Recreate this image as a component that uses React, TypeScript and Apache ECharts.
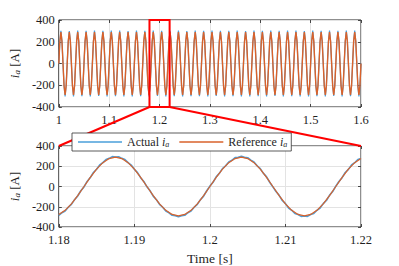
import React, { useEffect, useRef } from "react";
import * as echarts from "echarts";

// ---- data ----
const topStart = 1.0;
const topStep = 1 / 480; // s between samples in the overview plot
const topActual = [
  1, 206, 301, 205, -1, -206, -302, -205,
  -1, 205, 299, 206, 1, -205, -304, -206,
  1, 206, 303, 205, -1, -206, -300, -205,
  -1, 205, 300, 206, 1, -205, -302, -206,
  1, 206, 304, 205, -1, -206, -299, -205,
  -1, 205, 300, 206, 1, -205, -303, -206,
  1, 206, 302, 205, -1, -206, -301, -205,
  -1, 205, 303, 206, 1, -205, -304, -206,
  1, 206, 299, 205, -1, -206, -302, -205,
  -1, 205, 302, 206, 1, -205, -300, -206,
  1, 206, 300, 205, -1, -206, -303, -205,
  -1, 205, 304, 206, 1, -205, -299, -206,
  1, 206, 300, 205, -1, -206, -302, -205,
  -1, 205, 301, 206, 1, -205, -300, -206,
  1, 206, 303, 205, -1, -206, -304, -205,
  -1, 205, 299, 206, 1, -205, -301, -206,
  1, 206, 302, 205, -1, -206, -300, -205,
  -1, 205, 300, 206, 1, -205, -303, -206,
  1, 206, 304, 205, -1, -206, -299, -205,
  -1, 205, 300, 206, 1, -205, -302, -206,
  1, 206, 301, 205, -1, -206, -300, -205,
  -1, 205, 303, 206, 1, -205, -304, -206,
  1, 206, 299, 205, -1, -206, -302, -205,
  -1, 205, 302, 206, 1, -205, -300, -206,
  1, 206, 300, 205, -1, -206, -303, -205,
  -1, 205, 304, 206, 1, -205, -299, -206,
  1, 206, 301, 205, -1, -206, -302, -205,
  -1, 205, 302, 206, 1, -205, -301, -206,
  1, 206, 303, 205, -1, -206, -304, -205,
  -1, 205, 299, 206, 1, -205, -302, -206,
  1, 206, 302, 205, -1, -206, -300, -205,
  -1, 205, 300, 206, 1, -205, -303, -206,
  1, 206, 304, 205, -1, -206, -299, -205,
  -1, 205, 301, 206, 1, -205, -302, -206,
  1, 206, 302, 205, -1, -206, -301, -205,
  -1, 205, 303, 206, 1, -205, -304, -206,
  1,
];
const topReference = [
  0, 205, 290, 205, 0, -205, -290, -205,
  0, 205, 290, 205, 0, -205, -290, -205,
  0, 205, 290, 205, 0, -205, -290, -205,
  0, 205, 290, 205, 0, -205, -290, -205,
  0, 205, 290, 205, 0, -205, -290, -205,
  0, 205, 290, 205, 0, -205, -290, -205,
  0, 205, 290, 205, 0, -205, -290, -205,
  0, 205, 290, 205, 0, -205, -290, -205,
  0, 205, 290, 205, 0, -205, -290, -205,
  0, 205, 290, 205, 0, -205, -290, -205,
  0, 205, 290, 205, 0, -205, -290, -205,
  0, 205, 290, 205, 0, -205, -290, -205,
  0, 205, 290, 205, 0, -205, -290, -205,
  0, 205, 290, 205, 0, -205, -290, -205,
  0, 205, 290, 205, 0, -205, -290, -205,
  0, 205, 290, 205, 0, -205, -290, -205,
  0, 205, 290, 205, 0, -205, -290, -205,
  0, 205, 290, 205, 0, -205, -290, -205,
  0, 205, 290, 205, 0, -205, -290, -205,
  0, 205, 290, 205, 0, -205, -290, -205,
  0, 205, 290, 205, 0, -205, -290, -205,
  0, 205, 290, 205, 0, -205, -290, -205,
  0, 205, 290, 205, 0, -205, -290, -205,
  0, 205, 290, 205, 0, -205, -290, -205,
  0, 205, 290, 205, 0, -205, -290, -205,
  0, 205, 290, 205, 0, -205, -290, -205,
  0, 205, 290, 205, 0, -205, -290, -205,
  0, 205, 290, 205, 0, -205, -290, -205,
  0, 205, 290, 205, 0, -205, -290, -205,
  0, 205, 290, 205, 0, -205, -290, -205,
  0, 205, 290, 205, 0, -205, -290, -205,
  0, 205, 290, 205, 0, -205, -290, -205,
  0, 205, 290, 205, 0, -205, -290, -205,
  0, 205, 290, 205, 0, -205, -290, -205,
  0, 205, 290, 205, 0, -205, -290, -205,
  0, 205, 290, 205, 0, -205, -290, -205,
  0,
];

const zoomStart = 1.18;
const zoomEnd = 1.22;
const zoomActualStep = 1 / 2400;
const zoomActual = [
  -284, -259, -242, -205, -177, -130, -94, -42, -4, 50, 88, 138, 170, 213, 236, 267, 278, 295,
  292, 294, 278, 266, 236, 212, 170, 137, 87, 50, -3, -43, -95, -130, -176, -205, -243, -260, -284, -288,
  -298, -288, -284, -259, -243, -205, -177, -130, -95, -42, 4, 42, 95, 130, 177, 205, 243, 259, 285, 288,
  298, 288, 284, 260, 242, 205, 177, 130, 95, 42, -4, -50, -87, -138, -169, -213, -235, -267, -277, -295,
  -291, -295, -277, -267, -235, -213, -169, -138, -87, -50, 4, 50, 87, 138, 169, 213, 235, 267, 277,
];
const zoomReferenceStep = 1 / 1200;
const zoomReference = [
  -276, -235, -171, -90, 0, 90, 171, 235, 276, 290, 276, 235, 171, 90, 0, -90, -171, -235, -276, -290,
  -276, -235, -171, -90, 0, 90, 171, 235, 276, 290, 276, 235, 171, 90, 0, -90, -171, -235, -276, -290,
  -276, -235, -171, -90, 0, 90, 171, 235, 276,
];

const yMin = -400;
const yMax = 400;
const yInterval = 200;

const FONT = "Liberation Serif";
const TEXT = "#1f1f1f";
const BLUE = "#4A9FDA";
const ORANGE = "#D9622B";
const RED = "#FF0000";

const fmt = (v: number) => String(Math.round(v * 100) / 100);

const nameRich = {
  it: { fontStyle: "italic", fontFamily: FONT, fontSize: 13, color: TEXT },
  sub: { fontStyle: "italic", fontFamily: FONT, fontSize: 9, color: TEXT, verticalAlign: "bottom", padding: [4, 0, 0, 0] },
  n: { fontFamily: FONT, fontSize: 13, color: TEXT },
};

export default function App() {
  const ref = useRef<HTMLDivElement>(null);
  useEffect(() => {
    if (!ref.current) return;
    const chart = echarts.init(ref.current, undefined, { renderer: "svg" });

    const tick = { show: true, inside: true, length: 3, lineStyle: { color: TEXT, width: 0.8 } };
    const split = { show: true, lineStyle: { color: "#E3E3E3", width: 1 } };
    const noLine = { show: false, onZero: false };

    const xBase = (gi: number, min: number, max: number, interval: number) => ({
      type: "value",
      gridIndex: gi,
      min,
      max,
      interval,
      axisLine: noLine,
      axisTick: tick,
      splitLine: split,
      axisLabel: { color: TEXT, fontFamily: FONT, fontSize: 12.5, margin: 6, formatter: fmt },
    });
    const yBase = (gi: number) => ({
      type: "value",
      gridIndex: gi,
      min: yMin,
      max: yMax,
      interval: yInterval,
      axisLine: noLine,
      axisTick: tick,
      splitLine: split,
      axisLabel: { color: TEXT, fontFamily: FONT, fontSize: 12.5, margin: 4 },
      name: "{it|i}{sub|a}{n| [A]}",
      nameLocation: "middle",
      nameRotate: 90,
      nameGap: 30,
      nameTextStyle: { fontFamily: FONT, fontSize: 13, rich: nameRich },
    });
    const mirrorX = (gi: number, min: number, max: number, interval: number) => ({
      type: "value",
      gridIndex: gi,
      position: "top",
      min,
      max,
      interval,
      axisLine: noLine,
      axisTick: tick,
      splitLine: { show: false },
      axisLabel: { show: false },
    });
    const mirrorY = (gi: number) => ({
      type: "value",
      gridIndex: gi,
      position: "right",
      min: yMin,
      max: yMax,
      interval: yInterval,
      axisLine: noLine,
      axisTick: tick,
      splitLine: { show: false },
      axisLabel: { show: false },
    });

    chart.setOption({
      animation: false,
      backgroundColor: "#ffffff",
      grid: [
        { left: 51, top: 20, width: 310, height: 87, show: true, borderColor: TEXT, borderWidth: 1, backgroundColor: "transparent" },
        { left: 51, top: 146, width: 310, height: 86, show: true, borderColor: TEXT, borderWidth: 1, backgroundColor: "transparent" },
      ],
      xAxis: [
        xBase(0, 1, 1.6, 0.1),
        {
          ...xBase(1, zoomStart, zoomEnd, 0.01),
          name: "Time [s]",
          nameLocation: "middle",
          nameGap: 24,
          nameTextStyle: { color: TEXT, fontFamily: FONT, fontSize: 13.5 },
        },
        mirrorX(0, 1, 1.6, 0.1),
        mirrorX(1, zoomStart, zoomEnd, 0.01),
      ],
      yAxis: [yBase(0), yBase(1), mirrorY(0), mirrorY(1)],
      legend: {
        data: ["Actual", "Reference"],
        left: 72,
        top: 133,
        orient: "horizontal",
        backgroundColor: "#ffffff",
        borderColor: "#333333",
        borderWidth: 0.8,
        borderRadius: 0,
        padding: [3, 4, 3, 6],
        itemGap: 10,
        itemWidth: 44,
        itemHeight: 1.6,
        icon: "rect",
        z: 10,
        formatter: (name: string) => `${name} {it|i}{sub|a}`,
        textStyle: {
          color: TEXT,
          fontFamily: FONT,
          fontSize: 12,
          rich: {
            it: { fontStyle: "italic", fontFamily: FONT, fontSize: 12, color: TEXT },
            sub: { fontStyle: "italic", fontFamily: FONT, fontSize: 8, color: TEXT, verticalAlign: "bottom", padding: [4, 0, 0, 0] },
          },
        },
      },
      series: [
        {
          name: "Actual",
          type: "line",
          xAxisIndex: 0,
          yAxisIndex: 0,
          symbol: "none",
          data: topActual.map((v, i) => [topStart + i * topStep, v]),
          lineStyle: { color: BLUE, width: 1.2 },
          itemStyle: { color: BLUE },
          z: 2,
        },
        {
          name: "Reference",
          type: "line",
          xAxisIndex: 0,
          yAxisIndex: 0,
          symbol: "none",
          data: topReference.map((v, i) => [topStart + i * topStep, v]),
          lineStyle: { color: ORANGE, width: 1.4 },
          itemStyle: { color: ORANGE },
          z: 3,
        },
        {
          name: "Actual",
          type: "line",
          xAxisIndex: 1,
          yAxisIndex: 1,
          symbol: "none",
          data: zoomActual.map((v, i) => [zoomStart + i * zoomActualStep, v]),
          lineStyle: { color: BLUE, width: 1.6 },
          itemStyle: { color: BLUE },
          z: 2,
        },
        {
          name: "Reference",
          type: "line",
          xAxisIndex: 1,
          yAxisIndex: 1,
          symbol: "none",
          data: zoomReference.map((v, i) => [zoomStart + i * zoomReferenceStep, v]),
          lineStyle: { color: ORANGE, width: 1.2 },
          itemStyle: { color: ORANGE },
          z: 3,
        },
      ],
    });

    const a = chart.convertToPixel({ xAxisIndex: 0, yAxisIndex: 0 }, [zoomStart, yMax]) as number[];
    const b = chart.convertToPixel({ xAxisIndex: 0, yAxisIndex: 0 }, [zoomEnd, yMin]) as number[];
    const c = chart.convertToPixel({ xAxisIndex: 1, yAxisIndex: 1 }, [zoomStart, yMax]) as number[];
    const d = chart.convertToPixel({ xAxisIndex: 1, yAxisIndex: 1 }, [zoomEnd, yMax]) as number[];

    chart.setOption({
      graphic: [
        {
          type: "rect",
          z: 5,
          shape: { x: a[0], y: a[1], width: b[0] - a[0], height: b[1] - a[1] },
          style: { fill: "none", stroke: RED, lineWidth: 2 },
        },
        {
          type: "line",
          z: 5,
          shape: { x1: a[0], y1: b[1], x2: c[0], y2: c[1] },
          style: { stroke: RED, lineWidth: 2 },
        },
        {
          type: "line",
          z: 5,
          shape: { x1: b[0], y1: b[1], x2: d[0], y2: d[1] },
          style: { stroke: RED, lineWidth: 2 },
        },
      ],
    });

    return () => chart.dispose();
  }, []);

  return (
    <div
      ref={ref}
      style={{ position: "fixed", left: 0, top: 0, width: 399, height: 266, background: "#fff" }}
    />
  );
}
